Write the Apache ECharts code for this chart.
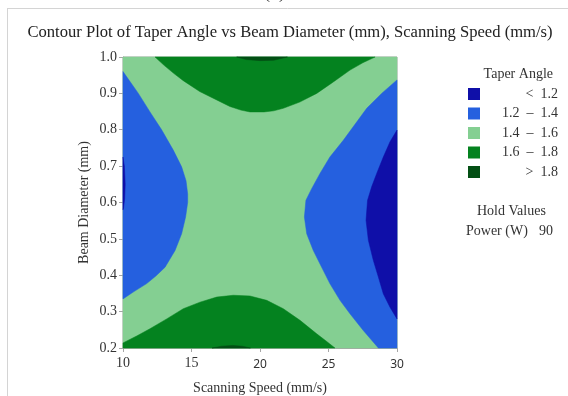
<!DOCTYPE html>
<html>
<head>
<meta charset="utf-8">
<script src="https://cdn.jsdelivr.net/npm/echarts@6/dist/echarts.min.js"></script>
<style>
  html, body { margin: 0; padding: 0; background: #fff; }
  #chart { width: 568px; height: 396px; }
</style>
</head>
<body>
<div id="chart"></div>
<script>
// contour bands (legend order) and their fill colours
const levels = ["<  1.2", "1.2  \u2013  1.4", "1.4  \u2013  1.6", "1.6  \u2013  1.8", ">  1.8"];
const levelColors = ["#0f0fa8", "#2560df", "#84cf92", "#04821f", "#034f14"];

// region outlines: [scanning speed (mm/s), beam diameter (mm)]
const plotBox = [[10, 0.2], [10, 1.0], [30, 1.0], [30, 0.2]];

const topGreen = [
  [12.34, 1.0], [13.0, 0.977], [13.7, 0.955], [14.4, 0.935], [15.6, 0.905],
  [16.84, 0.882], [17.8, 0.864], [18.6, 0.854], [19.27, 0.849], [20.3, 0.849],
  [21.0, 0.852], [21.7, 0.859], [22.9, 0.876], [24.14, 0.9], [25.3, 0.93],
  [26.57, 0.964], [27.5, 0.984], [28.4, 1.0]
];
const topDark = [[18.3, 1.0], [19.0, 0.993], [20.0, 0.99], [21.0, 0.991], [22.0, 1.0]];

const bottomGreen = [
  [10, 0.2], [10, 0.214], [11.0, 0.233], [11.97, 0.253], [13.19, 0.28], [14.4, 0.308],
  [15.62, 0.326], [16.84, 0.34], [18.05, 0.345], [19.27, 0.343], [20.49, 0.331],
  [21.7, 0.308], [22.92, 0.276], [24.14, 0.239], [24.8, 0.22], [25.47, 0.2]
];
const bottomDark = [[16.5, 0.2], [17.2, 0.205], [18.0, 0.207], [18.7, 0.205], [19.3, 0.2]];

const leftBlue = [
  [10, 0.96], [11.12, 0.9], [11.97, 0.849], [12.82, 0.8], [13.67, 0.744],
  [14.28, 0.698], [14.6, 0.66], [14.72, 0.624], [14.72, 0.6], [14.57, 0.56],
  [14.28, 0.514], [13.8, 0.468], [13.07, 0.422], [12.4, 0.398], [11.73, 0.377],
  [10.8, 0.355], [10, 0.335]
];
const leftDark = [[10, 0.725], [10.1, 0.7], [10.16, 0.65], [10.12, 0.61], [10.04, 0.585], [10, 0.58]];

const rightBlue = [
  [30, 0.937], [28.88, 0.9], [27.79, 0.859], [26.08, 0.771], [25.1, 0.725],
  [24.38, 0.68], [23.77, 0.638], [23.35, 0.606], [23.24, 0.56], [23.41, 0.514],
  [23.89, 0.468], [24.5, 0.422], [25.1, 0.377], [25.84, 0.331], [26.57, 0.294],
  [27.54, 0.248], [28.64, 0.2], [30, 0.2]
];
const rightDark = [
  [30, 0.799], [29.49, 0.767], [29.0, 0.725], [28.52, 0.68], [28.15, 0.643],
  [27.85, 0.606], [27.74, 0.551], [27.91, 0.496], [28.27, 0.441], [28.64, 0.395],
  [29.0, 0.349], [29.49, 0.312], [30, 0.28]
];

const serif = "'Liberation Serif', 'Times New Roman', serif";
const sans = "'Noto Sans', 'Open Sans', sans-serif";

const chart = echarts.init(document.getElementById("chart"), null, { renderer: "canvas" });

// one custom series per filled region, drawn as a polygon through the axes
function region(level, pts) {
  const color = levelColors[level];
  return {
    name: levels[level],
    type: "custom",
    coordinateSystem: "cartesian2d",
    silent: true,
    itemStyle: { color: color },
    data: pts,
    renderItem: (params, api) => {
      if (params.dataIndex !== 0) return null;
      return {
        type: "polygon",
        shape: { points: pts.map((p) => api.coord(p)) },
        style: { fill: color, stroke: color, lineWidth: 0.5 }
      };
    }
  };
}

const option = {
  backgroundColor: "#fff",
  animation: false,
  title: {
    text: "Contour Plot of Taper Angle vs Beam Diameter (mm), Scanning Speed (mm/s)",
    left: 285,
    textAlign: "center",
    top: 19,
    textStyle: { fontFamily: serif, fontSize: 16.6, fontWeight: "normal", color: "#222" }
  },
  legend: {
    orient: "vertical",
    left: 463,
    top: 82,
    itemWidth: 12,
    itemHeight: 12,
    itemGap: 5.5,
    icon: "rect",
    selectedMode: false,
    data: levels,
    formatter: (name) => "{t|" + name + "}",
    textStyle: {
      fontFamily: serif,
      fontSize: 14,
      color: "#333",
      rich: { t: { width: 73, align: "right", fontFamily: serif, fontSize: 14, lineHeight: 14 } }
    }
  },
  grid: {
    left: 123,
    right: 171,
    top: 57,
    bottom: 48,
    containLabel: false,
    outerBoundsMode: "none",
    show: true,
    borderColor: "#a6a6a6",
    borderWidth: 1,
    backgroundColor: "transparent"
  },
  xAxis: {
    type: "value",
    min: 10,
    max: 30,
    interval: 5,
    name: "Scanning Speed (mm/s)",
    nameLocation: "middle",
    nameGap: 33,
    nameTextStyle: { fontFamily: serif, fontSize: 14, color: "#333" },
    axisLine: { lineStyle: { color: "#a6a6a6" } },
    axisTick: { inside: false, length: 4, lineStyle: { color: "#a6a6a6" } },
    splitLine: { show: false },
    axisLabel: {
      margin: 8,
      formatter: (v) => (v < 20 ? "{s|" + v + "}" : "{n|" + v + "}"),
      rich: {
        s: { fontFamily: serif, fontSize: 14, color: "#333" },
        n: { fontFamily: sans, fontSize: 12, color: "#333", padding: [3, 0, 0, 0] }
      }
    }
  },
  yAxis: {
    type: "value",
    min: 0.2,
    max: 1.0,
    interval: 0.1,
    name: "Beam Diameter (mm)",
    nameLocation: "middle",
    nameGap: 32,
    nameTextStyle: { fontFamily: serif, fontSize: 14, color: "#333" },
    axisLine: { show: true, lineStyle: { color: "#a6a6a6" } },
    axisTick: { show: true, inside: false, length: 4, lineStyle: { color: "#a6a6a6" } },
    splitLine: { show: false },
    axisLabel: {
      margin: 6,
      fontFamily: serif,
      fontSize: 14,
      color: "#333",
      formatter: (v) => v.toFixed(1)
    }
  },
  graphic: [
    { type: "line", shape: { x1: 7.5, y1: 8, x2: 7.5, y2: 396 }, style: { stroke: "#d4d4d4", lineWidth: 1 } },
    { type: "line", shape: { x1: 7, y1: 8.5, x2: 568, y2: 8.5 }, style: { stroke: "#d4d4d4", lineWidth: 1 } },
    { type: "text", left: 264, top: -16, style: { text: "(d)", font: "18px " + serif, fill: "#222" } },
    { type: "text", right: 15, top: 67, style: { text: "Taper Angle", font: "14px " + serif, fill: "#333" } },
    { type: "text", left: 477, top: 204, style: { text: "Hold Values", font: "14px " + serif, fill: "#333" } },
    { type: "text", left: 466, top: 224, style: { text: "Power (W)", font: "14px " + serif, fill: "#333" } },
    { type: "text", right: 15, top: 224, style: { text: "90", font: "14px " + serif, fill: "#333" } }
  ],
  series: [
    region(2, plotBox),
    region(3, topGreen),
    region(4, topDark),
    region(3, bottomGreen),
    region(4, bottomDark),
    region(1, leftBlue),
    region(0, leftDark),
    region(1, rightBlue),
    region(0, rightDark)
  ]
};

chart.setOption(option);
window.addEventListener("resize", () => chart.resize());
</script>
</body>
</html>
